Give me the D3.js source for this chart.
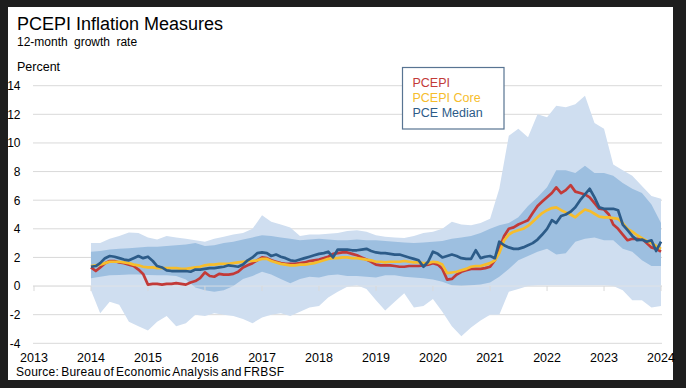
<!DOCTYPE html>
<html>
<head>
<meta charset="utf-8">
<script src="https://cdn.jsdelivr.net/npm/d3@7"></script>
<style>
body { margin: 0; background: #1e1e1e; }
svg { display: block; font-family: Arial, "Liberation Sans", sans-serif; }
</style>
</head>
<body>
<div id="chart"></div>
<script>
// tick labels
var years = [2013, 2014, 2015, 2016, 2017, 2018, 2019, 2020, 2021, 2022, 2023, 2024];
var yTicks = [-4, -2, 0, 2, 4, 6, 8, 10, 12, 14];
var seriesNames = ['PCEPI', 'PCEPI Core', 'PCE Median'];

// monthly 12-month growth rates, Jan 2014 .. Jan 2024
var pcepi = [
  1.3, 1.05, 1.3, 1.6, 1.75, 1.75, 1.65, 1.6, 1.5, 1.4, 1.15, 0.85,
  0.1, 0.15, 0.15, 0.1, 0.15, 0.15, 0.2, 0.15, 0.1, 0.25, 0.35, 0.55,
  0.95, 0.7, 0.65, 0.85, 0.8, 0.8, 0.85, 1.0, 1.3, 1.45, 1.6, 1.8,
  2.0, 1.95, 1.8, 1.7, 1.6, 1.55, 1.55, 1.55, 1.6, 1.65, 1.75, 1.8,
  1.85, 1.95, 2.05, 2.25, 2.3, 2.35, 2.35, 2.25, 2.15, 2.0, 1.85, 1.7,
  1.5, 1.45, 1.45, 1.45, 1.4, 1.35, 1.35, 1.4, 1.4, 1.4, 1.45, 1.5,
  1.6, 1.5, 1.2, 0.45, 0.5, 0.8, 1.0, 1.1, 1.2, 1.2, 1.2, 1.25,
  1.35, 1.8, 2.6, 3.5, 4.0, 4.1, 4.3, 4.45, 4.6, 5.1, 5.6, 5.9,
  6.2, 6.5, 6.9, 6.5, 6.7, 7.05, 6.6, 6.5, 6.4, 6.2, 5.8, 5.4,
  5.35, 5.0, 4.3, 4.0, 3.6, 3.2, 3.3, 3.3, 3.3, 3.0, 2.7, 2.6,
  2.4
];
var pcepiCore = [
  1.4, 1.45, 1.5, 1.6, 1.7, 1.7, 1.7, 1.65, 1.6, 1.5, 1.45, 1.35,
  1.3, 1.3, 1.25, 1.25, 1.25, 1.25, 1.25, 1.2, 1.2, 1.25, 1.3, 1.35,
  1.45, 1.5, 1.5, 1.55, 1.55, 1.55, 1.6, 1.65, 1.7, 1.75, 1.75, 1.8,
  1.9, 1.9, 1.75, 1.65, 1.55, 1.5, 1.45, 1.45, 1.5, 1.5, 1.55, 1.6,
  1.7, 1.8, 1.9, 1.95, 1.95, 2.0, 2.0, 1.95, 1.95, 1.9, 1.85, 1.8,
  1.7, 1.7, 1.65, 1.7, 1.7, 1.7, 1.75, 1.7, 1.65, 1.65, 1.6, 1.6,
  1.7, 1.65, 1.5, 0.9, 0.95, 1.0, 1.1, 1.2, 1.35, 1.4, 1.4, 1.5,
  1.6, 1.8, 2.3, 3.2, 3.6, 3.8, 3.9, 4.0, 4.2, 4.5, 4.8, 5.1,
  5.3, 5.45, 5.5, 5.3, 5.15, 5.0, 4.8, 5.1, 5.35, 5.25, 5.05, 4.85,
  4.8, 4.8, 4.75, 4.7, 4.4, 4.0, 3.8, 3.55, 3.35, 3.15, 3.0, 2.8,
  2.6
];
var pceMedian = [
  1.35, 1.4, 1.6, 1.95, 2.1, 2.05, 1.95, 1.85, 1.8, 1.95, 2.1, 1.95,
  2.05, 1.75, 1.4, 1.3, 1.1, 1.05, 1.05, 1.05, 1.05, 1.0, 1.15, 1.15,
  1.2, 1.25, 1.25, 1.3, 1.35, 1.45, 1.4, 1.35, 1.5, 1.8, 2.0, 2.3,
  2.35, 2.3, 2.1, 2.2, 2.05, 1.95, 1.8, 1.75, 1.85, 1.95, 2.05, 2.15,
  2.25, 2.3, 2.4, 2.0, 2.55, 2.55, 2.55, 2.5, 2.5, 2.55, 2.6, 2.45,
  2.35, 2.3, 2.3, 2.25, 2.2, 2.2, 2.1, 2.0, 1.9, 1.8, 1.35, 1.7,
  2.4, 2.25, 2.0, 2.1, 2.2, 2.1, 1.95, 1.9, 1.9, 2.5, 1.95, 2.05,
  2.1, 1.95, 3.1, 2.85, 2.7, 2.6, 2.6, 2.7, 2.85, 3.0, 3.25, 3.6,
  4.0, 4.6, 4.4, 4.9, 5.0, 5.2, 5.5, 6.0, 6.4, 6.8, 6.2, 5.5,
  5.4, 5.4, 5.4, 5.3, 4.3, 3.9, 3.5, 3.2, 3.25, 3.1, 3.2, 2.45,
  3.1
];

// distribution bands, every second month, Jan 2014 .. Jan 2024
var outerHigh = [3.0, 3.0, 3.3, 3.5, 3.75, 3.7, 3.4, 3.25, 3.5, 3.4, 3.3, 3.2, 3.1, 3.3, 3.45, 3.6,
  3.7, 4.0, 4.95, 4.5, 4.3, 4.1, 3.5, 3.6, 3.6, 3.65, 3.7, 3.85, 3.9, 3.8, 3.55, 3.45, 3.4, 3.35,
  3.5, 3.7, 3.8, 4.0, 4.5, 4.3, 4.25, 4.4, 4.7, 6.8, 10.5, 11.0, 10.4, 12.0, 11.8, 12.6, 12.5,
  12.7, 13.3, 11.4, 11.0, 8.5, 8.1, 7.7, 7.0, 6.3, 6.1];
var outerLow = [-0.3, -1.9, -1.1, -1.3, -2.5, -2.8, -3.1, -2.5, -2.1, -2.8, -2.6, -2.0, -2.1, -1.9,
  -2.0, -2.1, -2.3, -2.6, -2.2, -2.0, -1.9, -2.1, -1.8, -1.5, -1.4, -0.8, -0.4, -0.05, 0.05, -0.2,
  -1.0, -1.7, -1.1, -0.5, -1.5, -1.4, -0.9, -1.8, -2.8, -3.5, -2.9, -2.4, -2.0, -2.0, -0.4, -0.2,
  0.0, 0.05, 0.05, 0.05, 0.05, 0.05, 0.05, 0.05, 0.05, 0.0, -0.3, -1.0, -1.0, -1.5, -1.4];
var innerHigh = [2.4, 2.45, 2.55, 2.6, 2.65, 2.7, 2.75, 2.75, 2.8, 2.85, 2.9, 3.0, 2.8, 2.85, 3.0,
  3.1, 3.25, 3.4, 3.55, 3.5, 3.4, 3.3, 3.2, 3.25, 3.3, 3.25, 3.2, 3.2, 3.25, 3.2, 3.2, 3.15, 3.1,
  3.05, 3.0, 3.05, 3.1, 3.15, 3.3, 3.4, 3.5, 3.7, 4.0, 4.25, 4.4, 4.8, 5.6, 6.2, 6.9, 8.1, 8.1,
  7.9, 8.4, 7.9, 7.9, 7.7, 7.2, 6.8, 6.5, 5.7, 4.4];
var innerLow = [0.55, 0.65, 0.75, 0.77, 0.8, 0.8, 0.77, 0.75, 0.75, 0.7, 0.45, -0.1, -0.3, -0.4,
  -0.3, 0.0, 0.5, 0.7, 1.0, 0.8, 0.5, 0.2, 0.5, 0.65, 0.6, 0.75, 0.8, 0.7, 0.7, 0.65, 0.6, 0.75,
  0.75, 0.65, 0.6, 0.55, 0.45, 0.3, 0.05, 0.0, 0.05, 0.1, 0.25, 0.65, 1.2, 1.8, 2.1, 2.4, 2.6,
  2.2, 2.3, 3.1, 3.3, 3.4, 3.2, 3.2, 2.6, 2.4, 1.8, 1.4, 1.4];

var width = 686,
    height = 388;

var colors = ['#c23a38', '#f6bd2c', '#2c5b88'];

var svg = d3.select('#chart')
    .append('svg')
    .attr('width', width)
    .attr('height', height);

svg.append('rect')
    .attr('x', 8)
    .attr('y', 7)
    .attr('width', 665)
    .attr('height', 373)
    .attr('fill', '#fff');

var x = d3.scaleTime()
    .domain([new Date(2013, 0, 1), new Date(2024, 0, 1)])
    .range([34, 661]);

var y = d3.scaleLinear()
    .domain([-4, 14])
    .range([343.3, 85.7]);

var monthly = arr => arr.map((v, i) => ({date: new Date(2014, i, 1), value: v}));
var band = (lo, hi) => lo.map((v, i) => ({date: new Date(2014, i * 2, 1), lo: v, hi: hi[i]}));

// gridlines
svg.selectAll('.grid')
    .data(yTicks)
    .enter()
    .append('line')
    .attr('class', 'grid')
    .attr('x1', 33)
    .attr('x2', 662)
    .attr('y1', d => y(d))
    .attr('y2', d => y(d))
    .attr('stroke', '#d9d9d9')
    .attr('stroke-width', 1);

var area = d3.area()
    .x(d => x(d.date))
    .y0(d => y(d.lo))
    .y1(d => y(d.hi));

svg.append('path')
    .attr('d', area(band(outerLow, outerHigh)))
    .attr('fill', '#cfdef0');

svg.append('path')
    .attr('d', area(band(innerLow, innerHigh)))
    .attr('fill', '#9dbfe0');

// zero line and year ticks sit over the bands
svg.append('line')
    .attr('x1', 33)
    .attr('x2', 662)
    .attr('y1', y(0))
    .attr('y2', y(0))
    .attr('stroke', '#e4e4e4')
    .attr('stroke-opacity', 0.8);

svg.selectAll('.xtick')
    .data(years)
    .enter()
    .append('line')
    .attr('class', 'xtick')
    .attr('x1', d => x(new Date(d, 0, 1)))
    .attr('x2', d => x(new Date(d, 0, 1)))
    .attr('y1', y(0))
    .attr('y2', y(0) + 5)
    .attr('stroke', '#d9d9d9');

var line = d3.line()
    .x(d => x(d.date))
    .y(d => y(d.value));

[pcepi, pcepiCore, pceMedian].forEach((s, i) => {
    svg.append('path')
        .attr('d', line(monthly(s)))
        .attr('fill', 'none')
        .attr('stroke', colors[i])
        .attr('stroke-width', 2.7)
        .attr('stroke-linejoin', 'round');
});

// axis labels
svg.selectAll('.ylab')
    .data(yTicks)
    .enter()
    .append('text')
    .attr('x', 20.5)
    .attr('y', d => y(d))
    .attr('dy', '0.36em')
    .attr('text-anchor', 'end')
    .attr('font-size', 12)
    .attr('fill', '#000')
    .text(d => d);

svg.selectAll('.xlab')
    .data(years)
    .enter()
    .append('text')
    .attr('x', d => x(new Date(d, 0, 1)))
    .attr('y', 361.5)
    .attr('text-anchor', 'middle')
    .attr('font-size', 12.5)
    .attr('fill', '#000')
    .text(d => d);

// titles
svg.append('text')
    .attr('x', 17)
    .attr('y', 30)
    .attr('font-size', 18)
    .attr('fill', '#000')
    .text('PCEPI Inflation Measures');

svg.append('text')
    .attr('x', 17)
    .attr('y', 45.5)
    .attr('font-size', 12)
    .attr('word-spacing', 3)
    .attr('fill', '#000')
    .text('12-month growth rate');

svg.append('text')
    .attr('x', 17)
    .attr('y', 70.5)
    .attr('font-size', 12.5)
    .attr('fill', '#000')
    .text('Percent');

svg.append('text')
    .attr('x', 16)
    .attr('y', 376)
    .attr('font-size', 12)
    .attr('letter-spacing', 0.25)
    .attr('word-spacing', -1.5)
    .attr('fill', '#000')
    .text('Source: Bureau of Economic Analysis and FRBSF');

// legend
svg.append('rect')
    .attr('x', 402.5)
    .attr('y', 67.5)
    .attr('width', 101.5)
    .attr('height', 61.5)
    .attr('fill', '#fff')
    .attr('stroke', '#587492')
    .attr('stroke-width', 1.2);

svg.selectAll('.legend')
    .data(seriesNames)
    .enter()
    .append('text')
    .attr('x', 412.5)
    .attr('y', (d, i) => 87 + i * 15)
    .attr('font-size', 12.5)
    .attr('fill', (d, i) => colors[i])
    .text(d => d);
</script>
</body>
</html>
